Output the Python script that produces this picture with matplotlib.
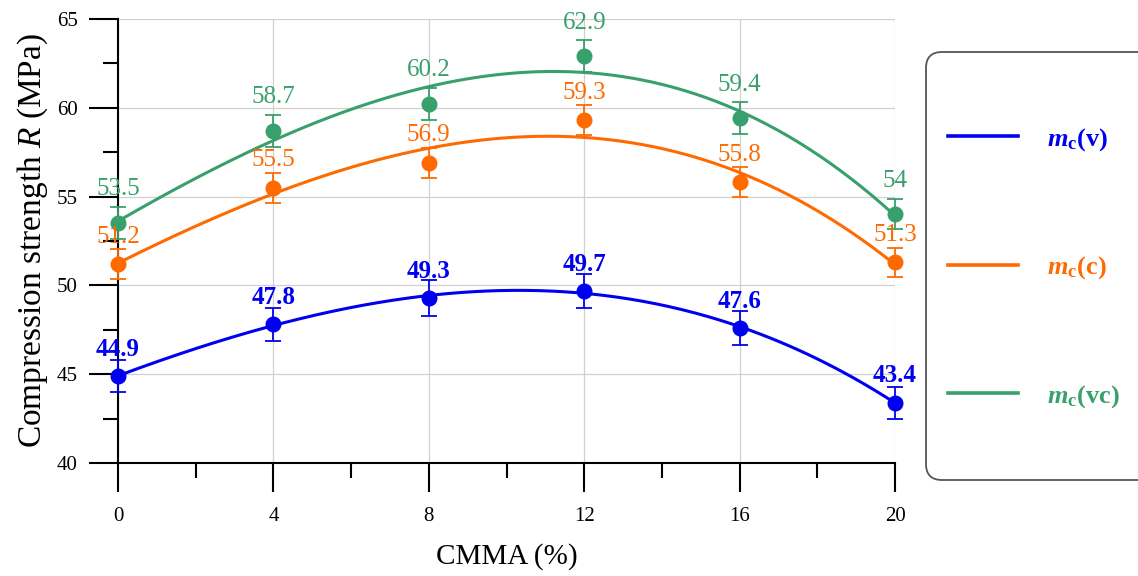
import numpy as np
import matplotlib
matplotlib.use("Agg")
import matplotlib.pyplot as plt
from matplotlib.patches import FancyBboxPatch
from matplotlib.transforms import IdentityTransform
from matplotlib.ticker import MultipleLocator

# ---------------- data ----------------
cmma = [0, 4, 8, 12, 16, 20]
r_v = [44.9, 47.8, 49.3, 49.7, 47.6, 43.4]
r_c = [51.2, 55.5, 56.9, 59.3, 55.8, 51.3]
r_vc = [53.5, 58.7, 60.2, 62.9, 59.4, 54.0]
err_v = [0.9, 0.95, 1.0, 0.95, 0.95, 0.9]
err_c = [0.85, 0.85, 0.85, 0.85, 0.85, 0.8]
err_vc = [0.9, 0.9, 0.9, 0.9, 0.9, 0.85]
labels = [r'$\mathbfit{m}_{\mathbf{c}}$(v)', r'$\mathbfit{m}_{\mathbf{c}}$(c)', r'$\mathbfit{m}_{\mathbf{c}}$(vc)']
x_ticks = [0, 4, 8, 12, 16, 20]
y_ticks = [40, 45, 50, 55, 60, 65]

# ---------------- style ----------------
SERIF = 'Liberation Serif'
plt.rcParams['font.family'] = [SERIF, 'DejaVu Serif']
plt.rcParams['mathtext.fontset'] = 'custom'
plt.rcParams['mathtext.rm'] = SERIF
plt.rcParams['mathtext.it'] = SERIF + ':italic'
plt.rcParams['mathtext.bf'] = SERIF + ':bold'
plt.rcParams['mathtext.bfit'] = SERIF + ':italic:bold'

series = [
    dict(y=r_v, e=err_v, color='#0000F0', label=labels[0], off=14.5, weight='bold'),
    dict(y=r_c, e=err_c, color='#FF6A00', label=labels[1], off=15.5, weight='normal'),
    dict(y=r_vc, e=err_vc, color='#38A06C', label=labels[2], off=20.0, weight='normal'),
]

fig = plt.figure(figsize=(11.38, 5.76), dpi=100)

# legend box (rounded, extends past right edge), behind everything
box = FancyBboxPatch((926, 576 - 480), 260, 428,
                     boxstyle='round,pad=0,rounding_size=16',
                     transform=IdentityTransform(), facecolor='white',
                     edgecolor='#555555', lw=1.3, zorder=-5)
fig.patches.append(box)

ax = fig.add_axes([118/1138, 1 - 463/576, (895 - 118)/1138, (463 - 19)/576])
ax.patch.set_alpha(0)

handles = []
xs = np.linspace(0, 20, 300)
for s in series:
    coef = np.polyfit(cmma, s['y'], 3)
    line, = ax.plot(xs, np.polyval(coef, xs), color=s['color'], lw=2.2,
                    label=s['label'], clip_on=False, zorder=3)
    handles.append(line)
    ax.errorbar(cmma, s['y'], yerr=s['e'], fmt='o', color=s['color'], ms=10.5,
                elinewidth=1.3, capsize=6, capthick=1.3, clip_on=False, zorder=4)
    for xv, yv in zip(cmma, s['y']):
        txt = f'{yv:g}'
        ax.annotate(txt, (xv, yv), xytext=(0, s['off']), textcoords='offset points',
                    ha='center', va='baseline', color=s['color'], fontsize=18,
                    fontweight=s['weight'], annotation_clip=False, zorder=5)

ax.set_xlim(0, 20)
ax.set_ylim(40, 65)
ax.set_xticks(x_ticks)
ax.set_yticks(y_ticks)
ax.xaxis.set_minor_locator(MultipleLocator(2))
ax.yaxis.set_minor_locator(MultipleLocator(2.5))
ax.tick_params(which='major', direction='out', length=21, width=1.5, labelsize=15)
ax.tick_params(which='minor', direction='out', length=11, width=1.5)
ax.tick_params(axis='x', which='major', pad=11)
ax.tick_params(axis='y', which='major', pad=8)
for sp in ['top', 'right']:
    ax.spines[sp].set_visible(False)
for sp in ['left', 'bottom']:
    ax.spines[sp].set_linewidth(1.5)
ax.grid(True, which='major', color='#d0d0d0', lw=0.9)
ax.set_axisbelow(True)

ax.set_xlabel('CMMA (%)', fontsize=21, labelpad=12)
ax.set_ylabel('Compression strength $R$ (MPa)', fontsize=24, labelpad=5)

leg = ax.legend(handles=handles, loc='upper left',
                bbox_to_anchor=(948/1138, 1 - 126/576), bbox_transform=fig.transFigure,
                frameon=False, fontsize=19, handlelength=2.65, handletextpad=1.1,
                labelspacing=3.85, borderpad=0, borderaxespad=0, labelcolor='linecolor')
for t in leg.get_texts():
    t.set_fontweight('bold')
for h in leg.legend_handles:
    h.set_linewidth(2.6)

fig.savefig('out.png', dpi=100)
